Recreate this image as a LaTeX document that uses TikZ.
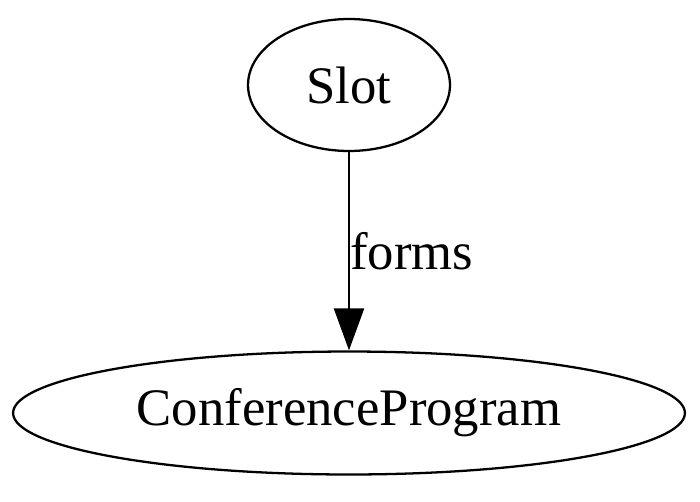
\documentclass[tikz,border=0pt]{standalone}
\usepackage{fontspec}
\setmainfont{Liberation Serif}
\usetikzlibrary{shapes.geometric, arrows.meta, positioning, calc}

\begin{document}
\begin{tikzpicture}[
  x=0.02cm, y=-0.02cm,
  font=\fontsize{30}{36}\selectfont,
  ent/.style={ellipse, draw=black, line width=1.3pt, fill=white, inner sep=0pt},
  arr/.style={-{Triangle[length=0.84cm, width=0.6cm]}, line width=1.3pt},
  lbl/.style={inner sep=0pt},
]
\useasboundingbox (0,0) rectangle (700,501);
\node (slot) [ent, minimum width=4.04cm, minimum height=2.64cm] at (349,85) {Slot};
\node (prog) [ent, minimum width=13.44cm, minimum height=2.46cm] at (349,413) {ConferenceProgram};
% edge
\draw [arr] (slot) -- node[lbl, right]{forms} (prog);
\end{tikzpicture}
\end{document}
